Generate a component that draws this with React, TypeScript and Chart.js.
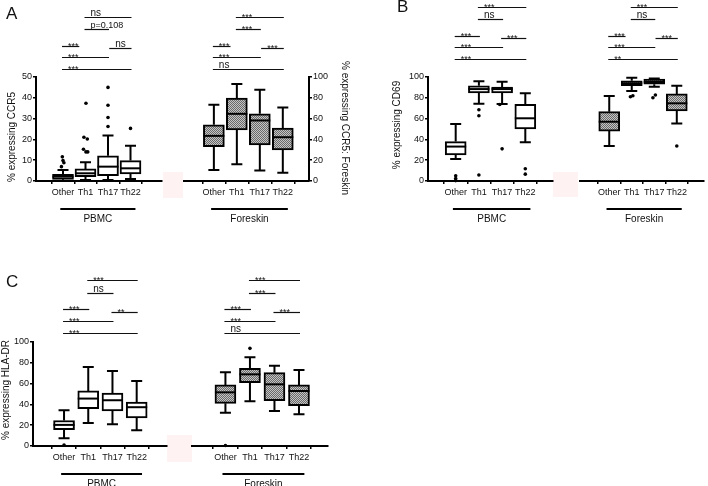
import React, { useEffect, useRef } from 'react';
import { Chart, registerables } from 'chart.js';

Chart.register(...registerables);

const FONT = '"Liberation Sans", Arial, Helvetica, sans-serif';
Chart.defaults.font.family = FONT;

const categories = ['Other', 'Th1', 'Th17', 'Th22'];

// comparisons, in order: Other-Th1, Other-Th17, Other-Th22, Th1-Th17, Th1-Th22, Th17-Th22
const compFrom = [0, 0, 0, 1, 1, 2];
const compTo = [1, 2, 3, 2, 3, 3];
const compFromShort = [0, 0, 0, 1, 1, 2.1];
const compToShort = [0.68, 2, 3, 2, 3, 3];

const yTicksCCR5 = [0, 10, 20, 30, 40, 50];
const yTicksPct = [0, 20, 40, 60, 80, 100];

// A — CCR5, PBMC
const ccr5PbmcMin = [0, 0.5, 0.5, 1.0];
const ccr5PbmcQ1 = [0.8, 2.1, 2.6, 3.4];
const ccr5PbmcMed = [2.1, 3.7, 6.9, 6.1];
const ccr5PbmcQ3 = [3.2, 5.8, 12.1, 9.8];
const ccr5PbmcMax = [5.3, 9.0, 21.9, 17.0];
const ccr5PbmcOutX = [-0.03, 0.0, 0.04, -0.07, 1.02, 0.93, 1.08, 0.91, 1.02, 1.1, 2, 2, 2, 2, 3];
const ccr5PbmcOutY = [11.6, 9.8, 8.8, 6.9, 37.4, 21.0, 20.2, 15.3, 14.0, 14.0, 45.0, 36.4, 30.5, 26.2, 25.3];
const ccr5PbmcSig = ['***', '***', '***', 'p=0.108', 'ns', 'ns'];

// A — CCR5, Foreskin
const ccr5ForMin = [10.6, 16.1, 10.0, 8.0];
const ccr5ForQ1 = [33.1, 49.2, 34.6, 29.9];
const ccr5ForMed = [43.4, 64.6, 58.2, 42.1];
const ccr5ForQ3 = [54.0, 79.7, 64.6, 50.8];
const ccr5ForMax = [73.3, 93.2, 87.8, 70.7];
const ccr5ForOutX: number[] = [];
const ccr5ForOutY: number[] = [];
const ccr5ForSig = ['***', '***', 'ns', '***', '***', '***'];

// B — CD69, PBMC
const cd69PbmcMin = [21.2, 74.3, 74.0, 37.2];
const cd69PbmcQ1 = [25.1, 84.6, 84.6, 50.0];
const cd69PbmcMed = [33.1, 88.4, 88.4, 60.3];
const cd69PbmcQ3 = [37.9, 91.6, 90.4, 73.7];
const cd69PbmcMax = [54.7, 95.8, 95.5, 84.3];
const cd69PbmcOutX = [0, 0, 0, 1, 1, 1, 1.9, 2, 3, 3];
const cd69PbmcOutY = [5.0, 2.4, 0.4, 68.5, 62.7, 5.8, 73.6, 30.9, 11.8, 6.6];
const cd69PbmcSig = ['***', '***', '***', 'ns', '***', '***'];

// B — CD69, Foreskin
const cd69ForMin = [33.7, 86.5, 90.7, 55.4];
const cd69ForQ1 = [48.0, 91.6, 93.0, 67.3];
const cd69ForMed = [57.0, 93.9, 95.2, 74.7];
const cd69ForQ3 = [66.7, 96.4, 98.1, 83.7];
const cd69ForMax = [81.7, 99.3, 98.6, 91.6];
const cd69ForOutX = [0.94, 1.05, 1.94, 2.05, 3];
const cd69ForOutY = [81.0, 82.0, 80.1, 82.7, 33.7];
const cd69ForSig = ['***', '***', '**', 'ns', '***', '***'];

// C — HLA-DR, PBMC
const hlaPbmcMin = [7.5, 22.1, 20.8, 15.2];
const hlaPbmcQ1 = [15.8, 35.8, 33.7, 27.0];
const hlaPbmcMed = [20.3, 45.6, 44.0, 37.3];
const hlaPbmcQ3 = [24.5, 53.0, 50.8, 42.2];
const hlaPbmcMax = [34.4, 76.0, 72.1, 62.5];
const hlaPbmcOutX = [0];
const hlaPbmcOutY = [1.0];
const hlaPbmcSig = ['***', '***', '***', 'ns', '***', '**'];

// C — HLA-DR, Foreskin
const hlaForMin = [32.0, 43.0, 33.7, 30.5];
const hlaForQ1 = [41.0, 60.9, 43.6, 38.8];
const hlaForMed = [51.6, 68.9, 59.3, 52.9];
const hlaForQ3 = [58.7, 74.7, 70.5, 58.7];
const hlaForMax = [70.8, 85.3, 77.2, 73.1];
const hlaForOutX = [0, 1];
const hlaForOutY = [0.5, 93.9];
const hlaForSig = ['***', '***', 'ns', '***', '***', '***'];

type Stats = { min: number[]; q1: number[]; med: number[]; q3: number[]; max: number[] };

interface PanelDef {
  id: string;
  canvas: [number, number, number, number]; // left, top, width, height (page px)
  area: [number, number, number, number]; // left, top, right, bottom (page px)
  xRange: [number, number];
  yTicks: number[];
  yAxis: 'left' | 'right' | 'none';
  title?: { text: string; x: number; y: number; rot: number };
  stats: Stats;
  outX: number[];
  outY: number[];
  hatched: boolean;
  group: string;
  sig: string[];
  sigFrom: number[];
  sigTo: number[];
  sigRows: number[]; // px above plot top
}

const rowsA = [31, 20, 8, 48, 60, 29];
const rowsB = [41, 30, 18, 58, 70, 39];
const rowsC = [33, 21, 9, 49, 62, 30];

const panels: PanelDef[] = [
  {
    id: 'aPbmc', canvas: [0, 0, 170, 230], area: [36, 77, 162, 181], xRange: [-0.5, 3.7],
    yTicks: yTicksCCR5, yAxis: 'left',
    title: { text: '% expressing CCR5', x: 12, y: 137, rot: -Math.PI / 2 },
    stats: { min: ccr5PbmcMin, q1: ccr5PbmcQ1, med: ccr5PbmcMed, q3: ccr5PbmcQ3, max: ccr5PbmcMax },
    outX: ccr5PbmcOutX, outY: ccr5PbmcOutY, hatched: false, group: 'PBMC',
    sig: ccr5PbmcSig, sigFrom: compFromShort, sigTo: compToShort, sigRows: rowsA,
  },
  {
    id: 'aFor', canvas: [170, 0, 187, 230], area: [184, 77, 309, 181], xRange: [-0.62, 3.46],
    yTicks: yTicksPct, yAxis: 'right',
    title: { text: '% expressing CCR5: Foreskin', x: 345, y: 128, rot: Math.PI / 2 },
    stats: { min: ccr5ForMin, q1: ccr5ForQ1, med: ccr5ForMed, q3: ccr5ForQ3, max: ccr5ForMax },
    outX: ccr5ForOutX, outY: ccr5ForOutY, hatched: true, group: 'Foreskin',
    sig: ccr5ForSig, sigFrom: compFromShort, sigTo: compToShort, sigRows: rowsA,
  },
  {
    id: 'bPbmc', canvas: [385, 0, 175, 230], area: [428, 77, 553, 181], xRange: [-0.52, 3.52],
    yTicks: yTicksPct, yAxis: 'left',
    title: { text: '% expressing CD69', x: 397, y: 125, rot: -Math.PI / 2 },
    stats: { min: cd69PbmcMin, q1: cd69PbmcQ1, med: cd69PbmcMed, q3: cd69PbmcQ3, max: cd69PbmcMax },
    outX: cd69PbmcOutX, outY: cd69PbmcOutY, hatched: false, group: 'PBMC',
    sig: cd69PbmcSig, sigFrom: compFrom, sigTo: compTo, sigRows: rowsB,
  },
  {
    id: 'bFor', canvas: [570, 0, 138, 230], area: [580, 77, 708, 181], xRange: [-0.61, 3.52],
    yTicks: yTicksPct, yAxis: 'none',
    stats: { min: cd69ForMin, q1: cd69ForQ1, med: cd69ForMed, q3: cd69ForQ3, max: cd69ForMax },
    outX: cd69ForOutX, outY: cd69ForOutY, hatched: true, group: 'Foreskin',
    sig: cd69ForSig, sigFrom: compFromShort, sigTo: compToShort, sigRows: rowsB,
  },
  {
    id: 'cPbmc', canvas: [0, 270, 172, 216], area: [33, 342, 167, 446], xRange: [-0.59, 3.56],
    yTicks: yTicksPct, yAxis: 'left',
    title: { text: '% expressing HLA-DR', x: 6, y: 390, rot: -Math.PI / 2 },
    stats: { min: hlaPbmcMin, q1: hlaPbmcQ1, med: hlaPbmcMed, q3: hlaPbmcQ3, max: hlaPbmcMax },
    outX: hlaPbmcOutX, outY: hlaPbmcOutY, hatched: false, group: 'PBMC',
    sig: hlaPbmcSig, sigFrom: compFrom, sigTo: compTo, sigRows: rowsC,
  },
  {
    id: 'cFor', canvas: [175, 270, 165, 216], area: [192, 342, 328, 446], xRange: [-0.67, 3.49],
    yTicks: yTicksPct, yAxis: 'none',
    stats: { min: hlaForMin, q1: hlaForQ1, med: hlaForMed, q3: hlaForQ3, max: hlaForMax },
    outX: hlaForOutX, outY: hlaForOutY, hatched: true, group: 'Foreskin',
    sig: hlaForSig, sigFrom: compFrom, sigTo: compTo, sigRows: rowsC,
  },
];

const BOX_W = 21;
const CAP = 5.5;

function makePattern(): CanvasPattern | string {
  const c = document.createElement('canvas');
  c.width = 2;
  c.height = 2;
  const g = c.getContext('2d');
  if (!g) return '#999';
  g.fillStyle = '#c4c4c4';
  g.fillRect(0, 0, 2, 2);
  g.fillStyle = '#6a6a6a';
  g.fillRect(0, 0, 1, 1);
  g.fillRect(1, 1, 1, 1);
  return g.createPattern(c, 'repeat') ?? '#999';
}

function buildChart(canvas: HTMLCanvasElement, p: PanelDef): Chart {
  const [cl, ct, cw, ch] = p.canvas;
  const [al, at, ar, ab] = p.area;
  const padTop = at - ct;
  const xAxisH = ct + ch - ab;
  const yW = p.yAxis === 'left' ? al - cl : p.yAxis === 'right' ? cl + cw - ar : 0;
  const padLeft = p.yAxis === 'left' ? 0 : al - cl;
  const padRight = p.yAxis === 'right' ? 0 : cl + cw - ar;
  const fill = p.hatched ? makePattern() : '#ffffff';
  const s = p.stats;

  const extras = {
    id: 'boxExtras',
    beforeDatasetsDraw(chart: any) {
      const xs = chart.scales.x;
      const ys = chart.scales.y;
      const ctx: CanvasRenderingContext2D = chart.ctx;
      ctx.save();
      ctx.strokeStyle = '#000';
      ctx.lineWidth = 2;
      categories.forEach((_, i) => {
        const x = xs.getPixelForValue(i);
        const yMin = ys.getPixelForValue(s.min[i]);
        const yQ1 = ys.getPixelForValue(s.q1[i]);
        const yQ3 = ys.getPixelForValue(s.q3[i]);
        const yMax = ys.getPixelForValue(s.max[i]);
        ctx.beginPath();
        ctx.moveTo(x, yMax);
        ctx.lineTo(x, yQ3);
        ctx.moveTo(x, yQ1);
        ctx.lineTo(x, yMin);
        ctx.moveTo(x - CAP, yMax);
        ctx.lineTo(x + CAP, yMax);
        ctx.moveTo(x - CAP, yMin);
        ctx.lineTo(x + CAP, yMin);
        ctx.stroke();
      });
      ctx.restore();
    },
    afterDatasetsDraw(chart: any) {
      const xs = chart.scales.x;
      const ys = chart.scales.y;
      const ctx: CanvasRenderingContext2D = chart.ctx;
      ctx.save();
      ctx.strokeStyle = '#000';
      ctx.lineWidth = 2;
      categories.forEach((_, i) => {
        const x = xs.getPixelForValue(i);
        const y = ys.getPixelForValue(s.med[i]);
        ctx.beginPath();
        ctx.moveTo(x - BOX_W / 2, y);
        ctx.lineTo(x + BOX_W / 2, y);
        ctx.stroke();
      });
      ctx.restore();
    },
    afterDraw(chart: any) {
      const xs = chart.scales.x;
      const ctx: CanvasRenderingContext2D = chart.ctx;
      const area = chart.chartArea;
      ctx.save();
      // significance brackets
      p.sig.forEach((label, k) => {
        const x1 = xs.getPixelForValue(p.sigFrom[k]) - 1;
        const x2 = xs.getPixelForValue(p.sigTo[k]) + 1;
        const y = Math.round(area.top - p.sigRows[k]) + 0.5;
        ctx.strokeStyle = '#111';
        ctx.lineWidth = 1.2;
        ctx.beginPath();
        ctx.moveTo(x1, y);
        ctx.lineTo(x2, y);
        ctx.stroke();
        const star = label.startsWith('*');
        const size = star ? 9 : label === 'ns' ? 10 : 9;
        ctx.font = `${size}px ${FONT}`;
        ctx.fillStyle = '#111';
        ctx.textAlign = 'left';
        ctx.textBaseline = 'alphabetic';
        ctx.fillText(label, x1 + 6, star ? y + 2.5 : y - 2);
      });
      // group line + label
      const gx1 = xs.getPixelForValue(-0.12);
      const gx2 = xs.getPixelForValue(3.22);
      const gy = area.bottom + 28;
      ctx.strokeStyle = '#000';
      ctx.lineWidth = 2;
      ctx.beginPath();
      ctx.moveTo(gx1, gy);
      ctx.lineTo(gx2, gy);
      ctx.stroke();
      ctx.font = `10px ${FONT}`;
      ctx.fillStyle = '#111';
      ctx.textAlign = 'center';
      ctx.textBaseline = 'middle';
      ctx.fillText(p.group, (gx1 + gx2) / 2, area.bottom + 38);
      // y-axis title
      if (p.title) {
        ctx.save();
        ctx.translate(p.title.x - cl, p.title.y - ct);
        ctx.rotate(p.title.rot);
        ctx.font = `10px ${FONT}`;
        ctx.textAlign = 'center';
        ctx.textBaseline = 'middle';
        ctx.fillText(p.title.text, 0, 0);
        ctx.restore();
      }
      ctx.restore();
    },
  };

  return new Chart(canvas, {
    type: 'bar',
    data: {
      datasets: [
        {
          type: 'scatter',
          data: p.outX.map((x, i) => ({ x, y: p.outY[i] })),
          backgroundColor: '#000',
          borderWidth: 0,
          pointRadius: 1.8,
          clip: false,
          order: 0,
        } as any,
        {
          type: 'bar',
          data: categories.map((_, i) => ({ x: i, y: [s.q1[i], s.q3[i]] })),
          backgroundColor: fill,
          borderColor: '#000',
          borderWidth: 2,
          borderSkipped: false,
          barThickness: BOX_W,
          order: 1,
        } as any,
      ],
    },
    options: {
      responsive: false,
      animation: false,
      events: [],
      layout: { padding: { top: padTop, left: padLeft, right: padRight, bottom: 0 } },
      plugins: { legend: { display: false }, tooltip: { enabled: false } },
      scales: {
        x: {
          type: 'linear',
          min: p.xRange[0],
          max: p.xRange[1],
          afterBuildTicks: (sc: any) => {
            sc.ticks = categories.map((_, i) => ({ value: i }));
          },
          afterFit: (sc: any) => {
            sc.height = xAxisH;
          },
          ticks: {
            callback: (v: any) => categories[Number(v)] ?? '',
            font: { size: 9, family: FONT },
            color: '#111',
            padding: 3,
            maxRotation: 0,
            autoSkip: false,
          },
          grid: { drawOnChartArea: false, tickLength: 3, color: '#000', lineWidth: 1.5 },
          border: { display: true, color: '#000', width: 2 },
        },
        y: {
          type: 'linear',
          position: p.yAxis === 'right' ? 'right' : 'left',
          display: p.yAxis !== 'none',
          min: p.yTicks[0],
          max: p.yTicks[p.yTicks.length - 1],
          afterBuildTicks: (sc: any) => {
            sc.ticks = p.yTicks.map((v) => ({ value: v }));
          },
          afterFit: (sc: any) => {
            sc.width = yW;
          },
          ticks: { font: { size: 9, family: FONT }, color: '#111', padding: 1 },
          grid: { drawOnChartArea: false, tickLength: 3, color: '#000', lineWidth: 1.5 },
          border: { display: true, color: '#000', width: 2 },
        },
      },
    } as any,
    plugins: [extras],
  });
}

function BoxPanel({ p }: { p: PanelDef }) {
  const ref = useRef<HTMLCanvasElement>(null);
  useEffect(() => {
    const canvas = ref.current;
    if (!canvas) return;
    const chart = buildChart(canvas, p);
    return () => chart.destroy();
  }, [p]);
  const [cl, ct, cw, ch] = p.canvas;
  return (
    <canvas
      ref={ref}
      width={cw}
      height={ch}
      style={{ position: 'absolute', left: cl, top: ct, width: cw, height: ch }}
    />
  );
}

const letterStyle: React.CSSProperties = {
  position: 'absolute',
  fontFamily: FONT,
  fontSize: 17,
  lineHeight: '17px',
  color: '#111',
};

const smudgeStyle: React.CSSProperties = {
  position: 'absolute',
  background: '#fff2f2',
};

export default function App() {
  return (
    <div
      style={{
        position: 'fixed',
        left: 0,
        top: 0,
        width: 708,
        height: 486,
        background: '#fff',
        overflow: 'hidden',
      }}
    >
      <div style={{ ...smudgeStyle, left: 163, top: 172, width: 20, height: 26 }} />
      <div style={{ ...smudgeStyle, left: 553, top: 172, width: 25, height: 25 }} />
      <div style={{ ...smudgeStyle, left: 167, top: 435, width: 25, height: 27 }} />
      {panels.map((p) => (
        <BoxPanel key={p.id} p={p} />
      ))}
      <div style={{ ...letterStyle, left: 6, top: 5 }}>A</div>
      <div style={{ ...letterStyle, left: 397, top: -2 }}>B</div>
      <div style={{ ...letterStyle, left: 6, top: 273 }}>C</div>
    </div>
  );
}
